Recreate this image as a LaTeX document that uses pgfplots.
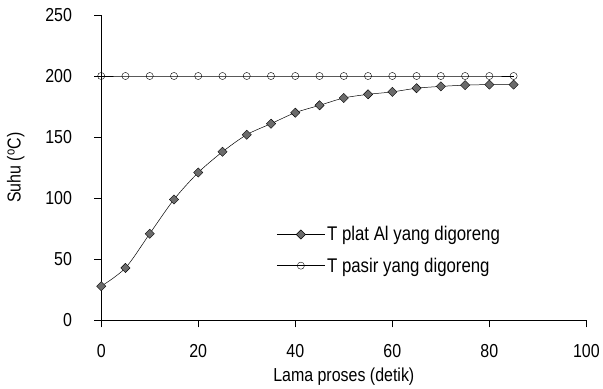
\documentclass[border=0pt]{standalone}
\usepackage{pgfplots}
\pgfplotsset{compat=1.18}
\usepackage{fontspec}
\setmainfont{Liberation Sans}[FakeStretch=0.85]
\begin{document}
\begin{tikzpicture}
\begin{axis}[
  scale only axis,
  width=489bp, height=308bp,
  xmin=0, xmax=100, ymin=0, ymax=250,
  axis x line*=bottom, axis y line*=left,
  axis line style={black, line width=0.6pt},
  xtick={0,20,...,100}, ytick={0,50,...,250},
  tick align=outside, major tick length=7bp,
  tick style={black, line width=0.6pt},
  /pgf/number format/assume math mode=true,
  ticklabel style={font=\fontsize{19}{21}\selectfont},
  xticklabel style={yshift=-14bp},
  yticklabel style={xshift=-19bp},
  label style={font=\fontsize{19}{21}\selectfont},
  xlabel={Lama proses (detik)},
  ylabel={Suhu (\textsuperscript{o}C)},
  xlabel style={yshift=-3bp},
  ylabel style={yshift=14bp},
  clip=false,
  legend style={at={(axis cs:35.5,80.2)}, anchor=north west, draw=none, fill=none,
    font=\fontsize{20}{22}\selectfont, row sep=11.5bp, cells={anchor=west}},
  legend cell align=left,
  legend image code/.code={\draw[sharp plot, line width=0.7pt, mark repeat=2,mark phase=2] plot coordinates {(0cm,0cm)(0.85cm,0cm)(1.7cm,0cm)};},
]
\addplot[black, line width=0.5pt, smooth, mark=square*, mark size=3.3bp,
  mark options={fill=black!58, draw=black, line width=0.4pt, rotate=45}] coordinates {
(0,28) (5,43) (10,71) (15,99) (20,121) (25,138) (30,152) (35,161) (40,170)
(45,176) (50,182) (55,185) (60,187) (65,190) (70,191.5) (75,192.5) (80,193) (85,193)
};
\addlegendentry{T plat Al yang digoreng}
\addplot[black, line width=0.5pt, mark=o, mark size=3.6bp,
  mark options={fill=white, draw=black, line width=0.4pt, solid}] coordinates {
(0,200) (5,200) (10,200) (15,200) (20,200) (25,200) (30,200) (35,200) (40,200)
(45,200) (50,200) (55,200) (60,200) (65,200) (70,200) (75,200) (80,200) (85,200)
};
\addlegendentry{T pasir yang digoreng}
\end{axis}
\path ([shift={(-102bp,-69bp)}]current axis.south west) rectangle ([shift={(12bp,15bp)}]current axis.north east);
\end{tikzpicture}
\end{document}
